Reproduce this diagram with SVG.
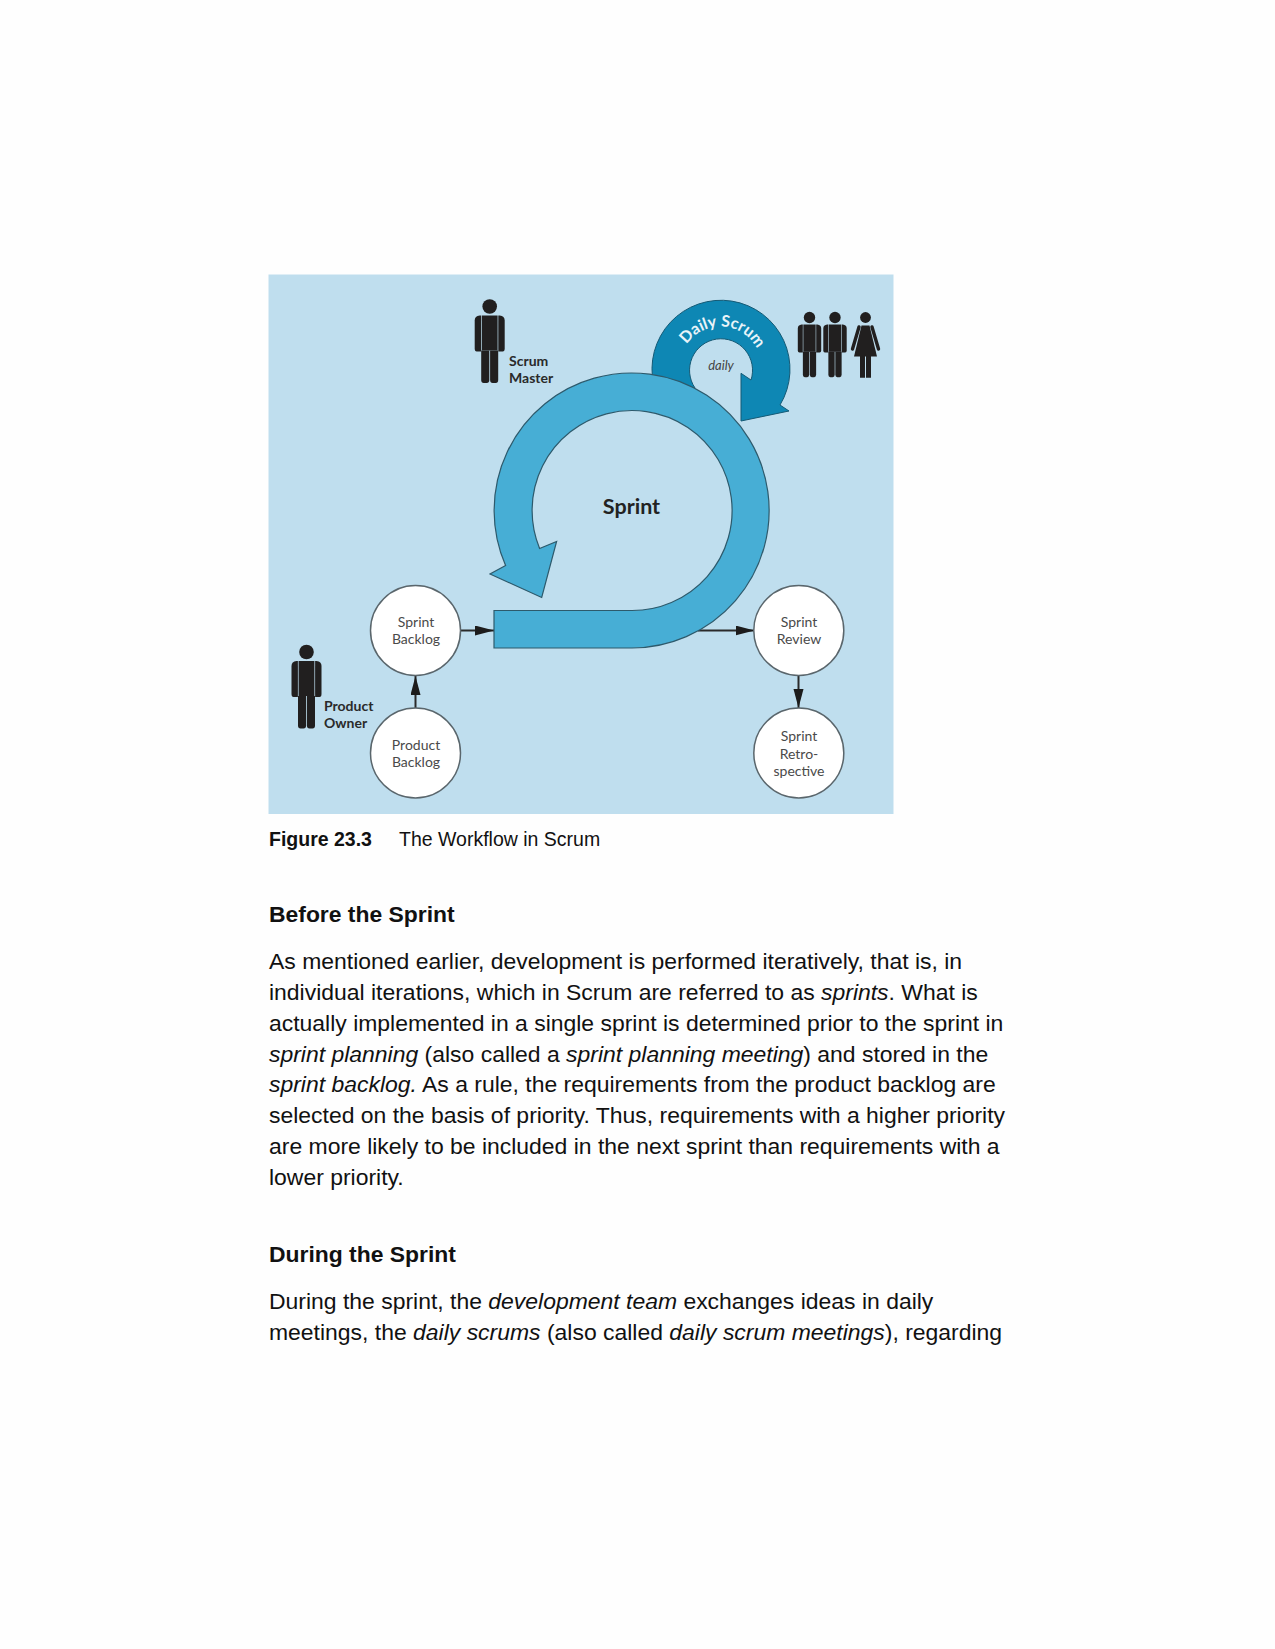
<svg xmlns="http://www.w3.org/2000/svg" xmlns:xlink="http://www.w3.org/1999/xlink" width="1275" height="1649" viewBox="0 0 1275 1649">
<style>
.p{font-family:"Liberation Sans",Arial,sans-serif;font-size:22.95px;fill:#111}
.h{font-family:"Liberation Sans",Arial,sans-serif;font-size:22.9px;font-weight:700;fill:#111}
.c{font-family:"Liberation Sans",Arial,sans-serif;font-size:19.5px;fill:#111}
.i{font-style:italic}
.n{font-family:Lato,"Open Sans",sans-serif;font-size:14px;fill:#4a4a4a;text-anchor:middle}
.r{font-family:Lato,"Open Sans",sans-serif;font-size:14px;font-weight:700;fill:#2a2a2a}
.node{fill:#fff;stroke:#5a666c;stroke-width:1.5}
.band{fill:#47aed5;stroke:#2d5a6c;stroke-width:1.2}
.cn{stroke:#2a2a2a;stroke-width:2;fill:none;marker-end:url(#ah)}
</style>
<defs>
<marker id="ah" markerUnits="userSpaceOnUse" markerWidth="20" markerHeight="12" refX="19" refY="5" orient="auto"><path d="M0,0 L19,5 L0,10 Z" fill="#1c1c1c"/></marker>
<path id="dailyCurve" d="M 679.5,367.5 A 41,41 0 0 1 761.5,367.5"/>
<g id="man" fill="#211f1f">
<circle cx="0" cy="0" r="7.3"/>
<path d="M-15,14 Q-15,9.5 -10,9 L-8.6,9 V45 H-13 Q-15,45 -15,42 Z"/>
<path d="M15,14 Q15,9.5 10,9 L8.6,9 V45 H13 Q15,45 15,42 Z"/>
<path d="M-7.9,9 H7.9 V44 H-7.9 Z"/>
<path d="M-8.5,44 H-0.4 V73.5 Q-0.4,76.5 -3,76.5 H-6 Q-8.5,76.5 -8.5,73.5 Z"/>
<path d="M8.5,44 H0.4 V73.5 Q0.4,76.5 3,76.5 H6 Q8.5,76.5 8.5,73.5 Z"/>
</g>
</defs>
<rect width="1275" height="1649" fill="#fefefe"/>
<rect id="panel" x="268.5" y="274.5" width="625" height="539.5" fill="#bfdeee"/>
<g id="connectors">
<line class="cn" x1="461" y1="630.5" x2="494" y2="630.5"/>
<line class="cn" x1="698" y1="630.5" x2="754.5" y2="630.5"/>
<line class="cn" x1="415.5" y1="708" x2="415.5" y2="676"/>
<line class="cn" x1="798.5" y1="676" x2="798.5" y2="708"/>
</g>
<g id="daily-scrum">
<path d="M653.8,385 A69,69 0 1 1 780,405 L789,411 L741,421 L741,373.3 L751,380 A31.5,31.5 0 1 0 695,388 Z" fill="#0e87b4" stroke="#155a75" stroke-width="1"/>
<text font-family="Lato,'Open Sans',sans-serif" font-size="16" font-weight="700" fill="#e9f4f9"><textPath xlink:href="#dailyCurve" href="#dailyCurve" startOffset="52%" text-anchor="middle">Daily Scrum</textPath></text>
<text x="721" y="370" font-family="Lato,'Open Sans',sans-serif" font-size="13" font-style="italic" fill="#444" text-anchor="middle">daily</text>
</g>
<g id="sprint">
<path class="band" d="M494,610.5 L632,610.5 A100,100 0 1 0 539.6,548.5 L556.6,541.5 L541.7,597.5 L490,574 L505.6,565.5 A137.5,137.5 0 1 1 632,648 L494,648 Z"/>
<text x="631.5" y="513.7" font-family="Lato,'Open Sans',sans-serif" font-size="21.5" font-weight="700" fill="#222" text-anchor="middle">Sprint</text>
</g>
<g id="sprint-backlog"><circle class="node" cx="415.5" cy="630.5" r="45"/><text class="n" x="416" y="627">Sprint</text><text class="n" x="416" y="644">Backlog</text></g>
<g id="product-backlog"><circle class="node" cx="415.5" cy="753" r="45"/><text class="n" x="416" y="750">Product</text><text class="n" x="416" y="767">Backlog</text></g>
<g id="sprint-review"><circle class="node" cx="798.8" cy="630.5" r="45"/><text class="n" x="799" y="627">Sprint</text><text class="n" x="799" y="644">Review</text></g>
<g id="sprint-retro"><circle class="node" cx="798.8" cy="753" r="45"/><text class="n" x="799" y="741">Sprint</text><text class="n" x="799" y="758.5">Retro-</text><text class="n" x="799" y="776">spective</text></g>
<g id="scrum-master"><use href="#man" transform="translate(489.7,306.5)"/><text class="r" x="509" y="366">Scrum</text><text class="r" x="509" y="382.8">Master</text></g>
<g id="product-owner"><use href="#man" transform="translate(306.5,652)"/><text class="r" x="324" y="711">Product</text><text class="r" x="324" y="728">Owner</text></g>
<g id="team">
<use href="#man" transform="translate(809.5,317.5) scale(.78)"/>
<use href="#man" transform="translate(835,317.5) scale(.78)"/>
<g fill="#211f1f"><circle cx="865.5" cy="317.5" r="5.4"/>
<path d="M861.5,325.5 H869.5 L877,356.5 H854 Z"/>
<path d="M859,327 L852.5,349 M872,327 L878.5,349" stroke="#211f1f" stroke-width="3.4" stroke-linecap="round" fill="none"/>
<path d="M860,356 H865 V377.7 H860 Z M866,356 H871 V377.7 H866 Z"/></g>
</g>
<g id="page-text">
<text class="h" x="269" y="846" style="font-size:19.5px">Figure 23.3</text>
<text class="c" x="399" y="846">The Workflow in Scrum</text>
<text class="h" x="269" y="921.8">Before the Sprint</text>
<text class="p" x="269" y="968.8">As mentioned earlier, development is performed iteratively, that is, in</text>
<text class="p" x="269" y="999.7">individual iterations, which in Scrum are referred to as <tspan class="i">sprints</tspan>. What is</text>
<text class="p" x="269" y="1030.6">actually implemented in a single sprint is determined prior to the sprint in</text>
<text class="p" x="269" y="1061.5"><tspan class="i">sprint planning</tspan> (also called a <tspan class="i">sprint planning meeting</tspan>) and stored in the</text>
<text class="p" x="269" y="1092.4"><tspan class="i">sprint backlog.</tspan> As a rule, the requirements from the product backlog are</text>
<text class="p" x="269" y="1123.3">selected on the basis of priority. Thus, requirements with a higher priority</text>
<text class="p" x="269" y="1154.2">are more likely to be included in the next sprint than requirements with a</text>
<text class="p" x="269" y="1185.1">lower priority.</text>
<text class="h" x="269" y="1261.8">During the Sprint</text>
<text class="p" x="269" y="1308.8">During the sprint, the <tspan class="i">development team</tspan> exchanges ideas in daily</text>
<text class="p" x="269" y="1339.7">meetings, the <tspan class="i">daily scrums</tspan> (also called <tspan class="i">daily scrum meetings</tspan>), regarding</text>
</g>
</svg>
